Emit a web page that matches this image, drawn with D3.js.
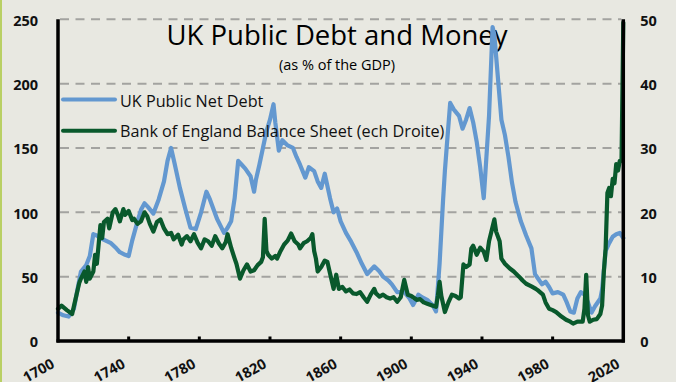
<!DOCTYPE html>
<html>
<head>
<meta charset="utf-8">
<script src="https://cdn.jsdelivr.net/npm/d3@7"></script>
<style>
html,body{margin:0;padding:0;background:#e8e8e1;}
svg{display:block;}
</style>
</head>
<body>
<svg id="chart" width="676" height="382"></svg>
<script>
// ---- data ----
const debtYears = [1700,1703,1706,1709,1711,1713,1716,1718,1720,1722,1724,1727,1730,1733,1735,1738,1740,1742,1745,1747,1749,1751,1754,1757,1760,1762,1764,1766,1769,1772,1775,1778,1781,1784,1786,1790,1794,1796,1798,1800,1802,1804,1806,1809,1811,1812,1814,1816,1818,1820,1822,1823,1825,1827,1830,1833,1835,1837,1840,1842,1845,1847,1849,1851,1854,1856,1858,1860,1863,1866,1869,1872,1875,1877,1879,1882,1884,1887,1889,1892,1896,1899,1901,1903,1904,1906,1909,1912,1914,1916,1918,1919,1920,1922,1924,1927,1929,1931,1933,1935,1937,1939,1941,1942,1944,1946,1947,1949,1951,1953,1955,1957,1959,1962,1965,1968,1970,1972,1974,1976,1978,1980,1983,1986,1988,1990,1992,1994,1996,1998,2000,2002,2004,2007,2008,2009,2010,2012,2014,2016,2018,2020];
const debtValues = [22,20,19,25,40,54,59,66,83,82,80,78,76,72,69,67,66,78,93,102,107,104,99,110,124,140,150,138,119,103,88,87,100,116,110,95,84,88,93,111,140,137,134,128,116,125,137,150,163,172,184,170,148,156,152,150,143,137,127,135,132,124,119,130,111,100,103,93,84,77,69,60,52,55,58,54,50,47,44,38,38,33,28,33,36,34,32,28,23,60,110,132,150,185,180,175,165,172,181,170,155,135,111,132,175,244,238,205,172,160,143,123,108,93,82,72,52,48,44,46,42,37,38,36,30,23,22,33,38,36,30,22,27,33,40,55,70,76,81,83,84,80];

const boeYears = [1700,1702,1705,1708,1710,1712,1713,1715,1716,1717,1718,1720,1721,1722,1724,1725,1726,1728,1729,1731,1732.5,1734,1735,1737,1738,1740,1742,1743,1745,1747,1749,1750.5,1752,1754,1756,1758,1760,1762,1764,1765.5,1768,1770,1771,1773,1775,1777,1779,1781,1783,1785,1787,1789,1791,1793,1795,1796,1798,1800,1801,1803,1805,1807,1809,1811,1813,1815,1816,1817,1818,1819,1821,1823,1824,1826,1828,1830,1832,1834,1836,1837,1839,1841,1843,1844,1845,1846,1847,1849,1851,1852.5,1854,1856,1857.5,1859,1861,1863,1865,1867,1869,1871,1873,1875,1877,1879,1880,1882,1884,1886,1888,1890,1892,1894,1896,1898,1900,1902,1903,1905,1907,1909,1911,1914,1915,1916,1917,1919,1921,1923,1925,1927,1928,1929.5,1931,1933,1934,1935,1937,1939,1941,1942.5,1944,1947,1948,1950,1951,1953,1955.6,1958,1961,1963,1965,1968,1970.5,1972,1974.5,1976,1978,1980,1982,1985,1987.6,1990,1991.6,1994,1997,1998,1999,2000,2001,2003,2005,2007,2008,2009,2010,2011,2012,2013,2014,2015,2016,2017,2018,2019,2020];
const boeValues = [5,5.5,4.8,4.2,6.6,9,9.7,10.8,9.2,11.5,9.7,10.8,13.4,12,18,16,18.5,19,17.5,20,20.5,19.5,18.6,20.5,19.6,20.2,18.8,19,18.2,18.6,20,19.4,18.2,17,18.5,18.9,17.5,16.6,16.8,15.8,16.5,15,15.8,16.3,15.5,16.6,15.3,14.4,15.8,15.5,14.8,16.3,15.2,14.4,15.4,16.6,14.5,12.8,12,9.7,11,11.9,10.8,11,11.8,12.3,13,19,14,13.4,12.8,13.2,12.8,14,15,15.6,16.7,15.5,15,14.4,15.2,15.5,16,16.6,14,12.8,10.8,11.5,12.5,12.3,10.5,8.1,10.3,8.1,8.4,7.7,8,7.4,7.3,7.6,6.8,6.1,7.2,8.1,7.4,6.9,7.2,6.8,6.6,6.8,6.1,6.8,9.5,7.2,7,6.6,6.4,6.5,6,5.8,5.6,5.3,7,9.2,7,4.5,6,7.2,7,6.6,6.8,11.9,11.5,11.9,14.4,14.8,13.4,14.5,13.9,12.6,15.5,18.9,17,15.5,12.8,12,11.3,10.8,10,9.4,8.9,8.5,8.1,7.8,7.2,6,5,4.8,4.5,3.8,3.3,3,2.7,3,3,5,10.3,4,3,3.3,3.4,4.2,5.5,10.8,14.4,23,23.8,22.5,25.2,24.5,27.5,26.5,28,28,49.5];

const xTicks = [1700,1740,1780,1820,1860,1900,1940,1980,2020];
const leftTicks = [0,50,100,150,200,250];
const rightTicks = [0,10,20,30,40,50];
const title = "UK Public Debt and Money";
const subtitle = "(as % of the GDP)";
const seriesNames = ["UK Public Net Debt","Bank of England Balance Sheet (ech Droite)"];

// ---- layout ----
const svg = d3.select("#chart");
const x0 = 58, x1 = 623.3, yTop = 19.3, yBot = 341;
const x = d3.scaleLinear().domain([1700,2020]).range([x0,x1]);
const yL = d3.scaleLinear().domain([0,250]).range([yBot,yTop]);
const yR = d3.scaleLinear().domain([0,50]).range([yBot,yTop]);
const blue = "#6398d0", green = "#09592c";
const font = "'Open Sans', 'Noto Sans', sans-serif";

svg.append("rect").attr("width",676).attr("height",382).attr("fill","#e8e8e1");
svg.append("rect").attr("x",0).attr("y",0).attr("width",2).attr("height",382).attr("fill","#b9d064");

// grid
svg.append("g").selectAll("line").data(leftTicks.filter(d=>d>0)).join("line")
  .attr("x1",x0+2).attr("x2",x1-2)
  .attr("y1",d=>yL(d)).attr("y2",d=>yL(d))
  .attr("stroke","#a3a3a0").attr("stroke-width",2).attr("stroke-dasharray","9,6.5");

// title
svg.append("text").attr("x",337).attr("y",45).attr("text-anchor","middle")
  .attr("font-family",font).attr("font-size",27.5).attr("fill","#000").text(title);
svg.append("text").attr("x",337).attr("y",70).attr("text-anchor","middle")
  .attr("font-family",font).attr("font-size",14.5).attr("fill","#000").text(subtitle);

// lines
const lineL = d3.line().x(d=>x(d[0])).y(d=>yL(d[1]));
const lineR = d3.line().x(d=>x(d[0])).y(d=>yR(d[1]));
svg.append("path").datum(d3.zip(debtYears,debtValues)).attr("d",lineL)
  .attr("fill","none").attr("stroke",blue).attr("stroke-width",4.2)
  .attr("stroke-linejoin","round").attr("stroke-linecap","round");
svg.append("path").datum(d3.zip(boeYears,boeValues)).attr("d",lineR)
  .attr("fill","none").attr("stroke",green).attr("stroke-width",4.2)
  .attr("stroke-linejoin","round").attr("stroke-linecap","round");

// legend
const leg = svg.append("g");
[[blue,99.5,106.5],[green,130.7,137]].forEach((c,i)=>{
  leg.append("line").attr("x1",63).attr("x2",115).attr("y1",c[1]).attr("y2",c[1])
    .attr("stroke",c[0]).attr("stroke-width",4).attr("stroke-linecap","round");
  leg.append("text").attr("x",120).attr("y",c[2]).attr("font-family",font)
    .attr("font-size",16.2).attr("fill","#111").text(seriesNames[i]);
});

// axes
const axB = svg.append("g").attr("transform",`translate(0,${yBot})`)
  .call(d3.axisBottom(x).tickValues(xTicks).tickFormat(d3.format("d")).tickSize(0));
axB.select(".domain").remove();
axB.selectAll(".tick text").attr("font-family",font).attr("font-weight","bold")
  .attr("font-size",14.5).attr("fill","#111")
  .attr("text-anchor","end").attr("dy",null).attr("y",0)
  .attr("transform","translate(-3,26) rotate(-29)");
svg.append("g").selectAll("rect").data(xTicks.slice(1,-1)).join("rect")
  .attr("x",d=>x(d)-1.5).attr("y",yBot-4.5).attr("width",3).attr("height",4.5).attr("fill","#000");

const axL = svg.append("g").attr("transform",`translate(${x0},0)`)
  .call(d3.axisLeft(yL).tickValues(leftTicks).tickSize(0).tickPadding(20));
axL.select(".domain").remove();
axL.selectAll(".tick text").attr("font-family",font).attr("font-weight","bold")
  .attr("font-size",14.5).attr("fill","#111").attr("dy","0.4em");

const axR = svg.append("g").attr("transform",`translate(${x1},0)`)
  .call(d3.axisRight(yR).tickValues(rightTicks).tickSize(0).tickPadding(17));
axR.select(".domain").remove();
axR.selectAll(".tick text").attr("font-family",font).attr("font-weight","bold")
  .attr("font-size",14.5).attr("fill","#111").attr("dy","0.4em");

// frame lines
svg.append("line").attr("x1",x0).attr("x2",x0).attr("y1",yTop).attr("y2",yBot+1.5)
  .attr("stroke","#000").attr("stroke-width",3.5);
svg.append("line").attr("x1",x1).attr("x2",x1).attr("y1",yTop).attr("y2",yBot+1.5)
  .attr("stroke","#000").attr("stroke-width",3.5);
svg.append("line").attr("x1",x0-1.5).attr("x2",x1+1.5).attr("y1",yBot).attr("y2",yBot)
  .attr("stroke","#000").attr("stroke-width",3.5);
</script>
</body>
</html>
